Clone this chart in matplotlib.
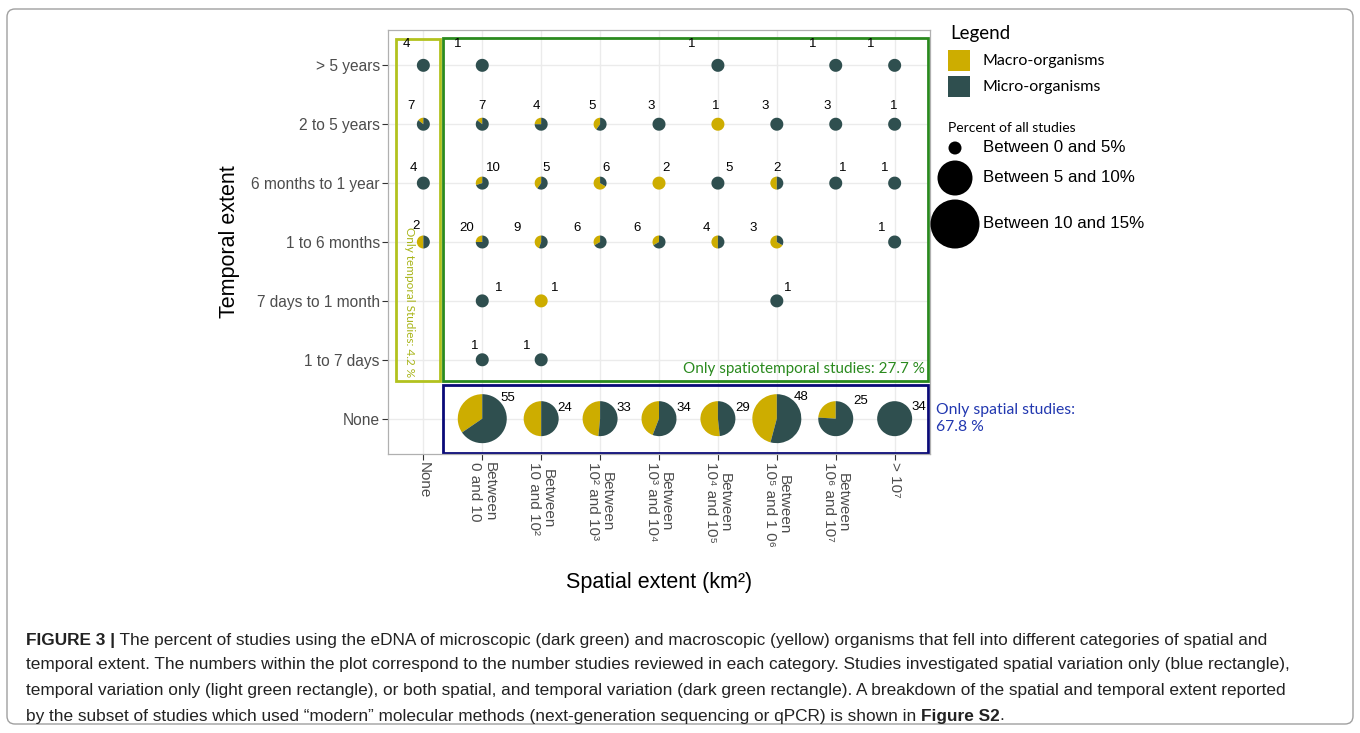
import numpy as np
import matplotlib.pyplot as plt
from matplotlib.patches import Wedge, Circle, Rectangle, FancyBboxPatch

#--- categories
space_cats = ['None', 'Between\n0 and 10', 'Between\n10 and 10²', 'Between\n10² and 10³',
              'Between\n10³ and 10⁴', 'Between\n10⁴ and 10⁵', 'Between\n10⁵ and 1 0⁶',
              'Between\n10⁶ and 10⁷', '> 10⁷']
time_cats = ['None', '1 to 7 days', '7 days to 1 month', '1 to 6 months',
             '6 months to 1 year', '2 to 5 years', '> 5 years']

#--- one entry per category cell: temporal, spatial, number of studies, macro-organism studies
pt_time = ['> 5 years'] * 5 + ['2 to 5 years'] * 9 + ['6 months to 1 year'] * 9 \
    + ['1 to 6 months'] * 8 + ['7 days to 1 month'] * 3 + ['1 to 7 days'] * 2 + ['None'] * 8
pt_space = [0, 1, 5, 7, 8,
            0, 1, 2, 3, 4, 5, 6, 7, 8,
            0, 1, 2, 3, 4, 5, 6, 7, 8,
            0, 1, 2, 3, 4, 5, 6, 8,
            1, 2, 6,
            1, 2,
            1, 2, 3, 4, 5, 6, 7, 8]
pt_total = [4, 1, 1, 1, 1,
            7, 7, 4, 5, 3, 1, 3, 3, 1,
            4, 10, 5, 6, 2, 5, 2, 1, 1,
            2, 20, 9, 6, 6, 4, 3, 1,
            1, 1, 1,
            1, 1,
            55, 24, 33, 34, 29, 48, 25, 34]
pt_macro = [0, 0, 0, 0, 0,
            1, 1, 1, 2, 0, 1, 0, 0, 0,
            0, 3, 2, 4, 2, 0, 1, 0, 0,
            1, 5, 4, 2, 2, 2, 2, 0,
            0, 1, 0,
            0, 0,
            19, 12, 16, 15, 15, 22, 6, 0]

# label nudges (pixels) for the count labels, as placed in the original
lab_dx = [-17, -25, -26, -23, -24,
          -12, 0, -5, -8, -8, -2, -12, -9, -1,
          -10, 11, 5, 6, 7, 11, 0, 7, -10,
          -7, -16, -24, -23, -22, -12, -24, -13,
          16, 14, 11,
          -8, -14,
          26, 24, 24, 25, 25, 24, 25, 24]
lab_dy = [21] * 5 + [18] * 9 + [15] * 9 + [16] + [14] * 7 + [13] * 3 + [14] * 2 \
    + [21, 11, 11, 11, 11, 22, 18, 12]

macro_col = '#CDAD00'
micro_col = '#2F4F4F'

total = sum(pt_total)
pct = np.array(pt_total) / total * 100
size_class = np.digitize(pct, [5, 10])          # 0-5, 5-10, 10-15 %
radius_px = [6.5, 17.5, 24.5]

W, H = 1360, 733
fig = plt.figure(figsize=(W / 100, H / 100), dpi=100)

ax = fig.add_axes([388 / W, 1 - 454 / H, 542 / W, 424 / H])
ax.set_xlim(0.4, 9.6)
ax.set_ylim(0.4, 7.6)
ppu = 542 / 9.2   # pixels per data unit

ax.set_xticks(range(1, 10))
ax.set_xticklabels(space_cats, rotation=-90, va='top', ha='center', linespacing=1.0,
                   fontsize=11, color='#4D4D4D', family=['Liberation Sans', 'DejaVu Sans'])
ax.set_yticks(range(1, 8))
ax.set_yticklabels(time_cats, fontsize=11.2, color='#4D4D4D',
                   family=['Liberation Sans', 'DejaVu Sans'])
ax.tick_params(length=4, width=0.8, color='#333333', pad=2)
ax.grid(True, color='#EBEBEB', lw=1, zorder=0)
ax.set_axisbelow(True)
for s in ax.spines.values():
    s.set_color('#B0B0B0')
    s.set_linewidth(0.9)

ax.set_xlabel('Spatial extent (km²)', fontsize=15.5, family='Liberation Sans')
ax.set_ylabel('Temporal extent', fontsize=15.5, family='Liberation Sans')
ax.xaxis.set_label_coords(0.5, -0.278)
ax.yaxis.set_label_coords(-0.273, 0.5)

#--- pies
for t, s, n, m, sc, dx, dy in zip(pt_time, pt_space, pt_total, pt_macro, size_class, lab_dx, lab_dy):
    x = s + 1
    y = time_cats.index(t) + 1
    r = radius_px[sc] / ppu
    frac = m / n
    if m > 0:
        ax.add_patch(Wedge((x, y), r, 90, 90 + 360 * frac, color=macro_col, lw=0, zorder=3))
    if m < n:
        ax.add_patch(Wedge((x, y), r, 90 + 360 * frac, 450, color=micro_col, lw=0, zorder=3))
    ax.annotate(str(n), (x, y), xytext=(dx * 0.72, dy * 0.72), textcoords='offset points',
                ha='center', va='center', fontsize=9.5, family='Liberation Sans', zorder=4)

#--- study-type rectangles
ax.add_patch(Rectangle((0.53, 1.645), 0.76, 5.8, fill=False, ec='#B2C21E', lw=2, clip_on=False, zorder=2))
ax.add_patch(Rectangle((1.34, 1.645), 8.22, 5.82, fill=False, ec='#2A8A1E', lw=2, clip_on=False, zorder=2))
ax.add_patch(Rectangle((1.34, 0.42), 8.22, 1.16, fill=False, ec='#0A0A78', lw=2, clip_on=False, zorder=2))

ax.text(0.77, 1.70, 'Only temporal Studies: 4.2 %', rotation=-90, ha='center', va='bottom',
        color='#A8B418', fontsize=8.5, family=['Liberation Sans Narrow', 'Lato'])
ax.text(9.51, 1.85, 'Only spatiotemporal studies: 27.7 %', ha='right', va='center',
        color='#2A8A1E', fontsize=11, family='Lato')
ax.text(9.71, 1.0, 'Only spatial studies:\n67.8 %', ha='left', va='center', linespacing=1.25,
        color='#2238B0', fontsize=11.3, family='Lato', clip_on=False)

#--- overlay in pixel coordinates: legend, caption, frame
ov = fig.add_axes([0, 0, 1, 1], zorder=5)
ov.set_xlim(0, W)
ov.set_ylim(H, 0)
ov.axis('off')
ov.patch.set_alpha(0)

ov.add_patch(FancyBboxPatch((7, 9), W - 14, H - 18, boxstyle='round,pad=0,rounding_size=8',
                            fill=False, ec='#A0A0A0', lw=1))

ov.text(950, 33, 'Legend', fontsize=13.5, family='Lato', va='center')
ov.add_patch(Rectangle((948, 50), 22, 21, color=macro_col, lw=0))
ov.add_patch(Rectangle((948, 76), 22, 21, color=micro_col, lw=0))
ov.text(983, 61, 'Macro-organisms', fontsize=11.5, family='Lato', va='center')
ov.text(983, 87, 'Micro-organisms', fontsize=11.5, family='Lato', va='center')
ov.text(948, 128, 'Percent of all studies', fontsize=10, family='Lato', va='center')
leg_labels = ['Between 0 and 5%', 'Between 5 and 10%', 'Between 10 and 15%']
leg_y = [148, 178, 224]
for r, lab, yy in zip(radius_px, leg_labels, leg_y):
    ov.add_patch(Circle((955, yy), r, color='black', lw=0))
    ov.text(983, yy, lab, fontsize=12.2, family='Liberation Sans', va='center')

#--- caption
cap_font = ['Liberation Sans Narrow', 'Liberation Sans']
cap_size = 12.45
cap_lines = [
    ('FIGURE 3 |', ' The percent of studies using the eDNA of microscopic (dark green) and macroscopic '
                   '(yellow) organisms that fell into different categories of spatial and', ''),
    ('', 'temporal extent. The numbers within the plot correspond to the number studies reviewed in '
         'each category. Studies investigated spatial variation only (blue rectangle),', ''),
    ('', 'temporal variation only (light green rectangle), or both spatial, and temporal variation '
         '(dark green rectangle). A breakdown of the spatial and temporal extent reported', ''),
    ('', 'by the subset of studies which used “modern” molecular methods (next-generation '
         'sequencing or qPCR) is shown in ', 'Figure S2'),
]
cap_y = [640, 665, 691, 716]
renderer = fig.canvas.get_renderer()
for (b1, reg, b2), yy in zip(cap_lines, cap_y):
    x = 26
    for txt, wt in [(b1, 'bold'), (reg, 'normal'), (b2, 'bold'), ('.' if b2 else '', 'normal')]:
        if not txt:
            continue
        t = ov.text(x, yy, txt, fontsize=cap_size, family=cap_font, weight=wt, va='center', color='#222222')
        bb = t.get_window_extent(renderer)
        x += bb.width

fig.savefig('out.png', dpi=100)
